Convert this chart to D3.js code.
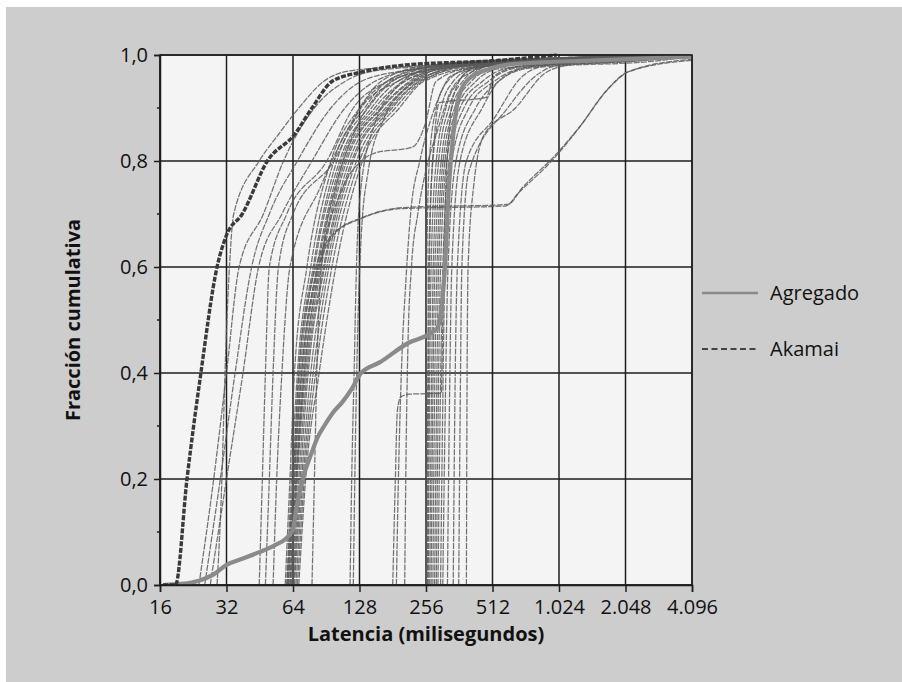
<!DOCTYPE html>
<html>
<head>
<meta charset="utf-8">
<script src="https://cdn.jsdelivr.net/npm/d3@7"></script>
<style>
  body { margin: 0; background: #fff; }
  text { font-family: "Open Sans", "Noto Sans", sans-serif; fill: #111; }
</style>
</head>
<body>
<div id="chart"></div>
<script>
// Ejes
const latencyTicks = [16, 32, 64, 128, 256, 512, 1024, 2048, 4096];
const latencyLabels = ["16", "32", "64", "128", "256", "512", "1.024", "2.048", "4.096"];
const fractionTicks = [0, 0.2, 0.4, 0.6, 0.8, 1.0];
const fractionLabels = ["0,0", "0,2", "0,4", "0,6", "0,8", "1,0"];
const fractionMinor = [0.1, 0.3, 0.5, 0.7, 0.9];

// Series destacadas: [latencia ms, fracción]
const akamai = [[16.5, 0], [18.8, 0], [21.2, 0.2], [24.5, 0.4], [29, 0.6], [32, 0.66], [37.7, 0.7],
  [49, 0.8], [65, 0.85], [78, 0.9], [96, 0.95], [128, 0.967], [194, 0.98], [550, 0.99], [1000, 1]];

const agregado = [[16.5, 0], [20, 0.002], [24, 0.008], [28, 0.02], [32, 0.038], [38, 0.05], [45, 0.062],
  [53, 0.075], [61.5, 0.094], [64, 0.105], [66, 0.14], [69, 0.18], [72, 0.21], [77, 0.245], [83, 0.28],
  [88.6, 0.3], [97, 0.325], [107, 0.345], [118, 0.37], [130, 0.4], [158, 0.42], [216, 0.458], [256, 0.47],
  [275, 0.478], [290, 0.487], [300, 0.52], [312, 0.6], [325, 0.75], [340, 0.85], [360, 0.92], [400, 0.955],
  [480, 0.972], [600, 0.982], [1500, 0.99], [4096, 0.997]];

// Curvas individuales, grupo cercano a 30 ms
const grupo30 = [
  [[29, 0], [30.5, 0.2], [31.5, 0.4], [33, 0.6], [34.5, 0.7], [45, 0.8], [55, 0.85], [68, 0.9], [88, 0.95], [115, 0.97], [250, 0.98], [3000, 1]],
  [[24, 0], [28, 0.2], [32, 0.4], [36.5, 0.6], [47, 0.7], [58, 0.8], [80, 0.9], [110, 0.95], [150, 0.97], [300, 0.98], [4096, 1]],
  [[25.5, 0], [30, 0.2], [35, 0.4], [41.6, 0.6], [50, 0.7], [67, 0.8], [95, 0.9], [130, 0.95], [200, 0.97], [400, 0.985], [4096, 1]],
  [[27, 0], [32, 0.2], [38, 0.4], [44.7, 0.6], [57, 0.7], [78, 0.8], [110, 0.9], [150, 0.95], [250, 0.975], [4096, 1]],
  [[45, 0], [46.5, 0.2], [48, 0.4], [50, 0.6], [60, 0.7], [91, 0.8], [120, 0.9], [170, 0.95], [300, 0.98], [4096, 1]],
  [[48, 0], [50, 0.2], [52, 0.4], [55, 0.6], [64, 0.7], [98, 0.8], [130, 0.9], [190, 0.95], [350, 0.98], [4096, 1]],
  [[52, 0], [54, 0.2], [57, 0.4], [62, 0.6], [85, 0.75], [110, 0.85], [140, 0.92], [200, 0.96], [400, 0.98], [4096, 1]]
];

// Grupo cercano a 64 ms
const grupo64 = [
  [[59, 0], [62, 0.2], [65, 0.4], [74, 0.6], [95, 0.8], [128, 0.9], [160, 0.95], [260, 0.98], [1000, 0.995], [4096, 1]],
  [[60, 0], [63, 0.2], [67, 0.4], [77, 0.6], [98, 0.8], [135, 0.9], [170, 0.95], [280, 0.98], [1200, 0.995], [4096, 1]],
  [[60.5, 0], [64, 0.2], [68, 0.4], [79, 0.6], [101, 0.8], [140, 0.9], [180, 0.95], [300, 0.98], [2000, 0.995], [4096, 1]],
  [[61, 0], [64.5, 0.2], [69, 0.4], [80, 0.6], [104, 0.8], [145, 0.9], [190, 0.95], [320, 0.98], [1500, 0.99], [4096, 1]],
  [[62, 0], [65, 0.2], [70, 0.4], [82, 0.6], [106, 0.8], [150, 0.9], [200, 0.95], [330, 0.985], [4096, 1]],
  [[62.5, 0], [66, 0.2], [71, 0.4], [83, 0.6], [108, 0.8], [155, 0.9], [205, 0.95], [340, 0.98], [2000, 0.99], [4096, 1]],
  [[63, 0], [66.5, 0.2], [72, 0.4], [85, 0.6], [110, 0.8], [160, 0.9], [215, 0.95], [350, 0.985], [4096, 1]],
  [[63.5, 0], [67, 0.2], [73, 0.4], [86, 0.6], [112, 0.8], [162, 0.9], [220, 0.95], [360, 0.98], [1800, 0.99], [4096, 1]],
  [[64, 0], [68, 0.2], [74, 0.4], [88, 0.6], [115, 0.8], [168, 0.9], [225, 0.95], [380, 0.985], [4096, 1]],
  [[64.5, 0], [69, 0.2], [75, 0.4], [89, 0.6], [118, 0.8], [172, 0.9], [230, 0.95], [400, 0.98], [2500, 0.993], [4096, 1]],
  [[65, 0], [70, 0.2], [77, 0.4], [91, 0.6], [120, 0.8], [176, 0.9], [236, 0.95], [420, 0.985], [4096, 1]],
  [[66, 0], [71, 0.2], [79, 0.4], [93, 0.6], [124, 0.8], [180, 0.9], [240, 0.95], [440, 0.98], [2000, 0.99], [4096, 1]],
  [[67, 0], [72, 0.2], [81, 0.4], [96, 0.6], [128, 0.8], [186, 0.9], [245, 0.95], [460, 0.985], [4096, 1]],
  [[68, 0], [73, 0.2], [84, 0.4], [100, 0.6], [132, 0.8], [194, 0.9], [250, 0.95], [480, 0.98], [2200, 0.99], [4096, 1]],
  [[78, 0], [80, 0.2], [82, 0.4], [86, 0.6], [100, 0.75], [120, 0.85], [150, 0.92], [200, 0.96], [400, 0.98], [4096, 1]]
];

// Curvas con mesetas
const mesetas = [
  [[60, 0], [64, 0.2], [68, 0.4], [76, 0.55], [96, 0.66], [128, 0.69], [195, 0.71], [586, 0.715], [672, 0.74], [948, 0.8], [1275, 0.865], [1656, 0.93], [2100, 0.968], [4096, 0.99]],
  [[61, 0], [65, 0.2], [70, 0.4], [79, 0.56], [100, 0.665], [135, 0.695], [200, 0.712], [600, 0.718], [700, 0.75], [980, 0.81], [1300, 0.87], [1700, 0.935], [2150, 0.97], [4096, 0.992]],
  [[62, 0], [66, 0.2], [72, 0.4], [84, 0.6], [105, 0.74], [135, 0.805], [150, 0.815], [222, 0.826], [254, 0.87], [284, 0.95], [400, 0.975], [4096, 1]],
  [[181, 0], [186, 0.2], [190, 0.33], [197, 0.355], [215, 0.36], [300, 0.362], [305, 0.5], [312, 0.7], [325, 0.85], [345, 0.93], [400, 0.97], [800, 0.99], [4096, 1]],
  [[260, 0], [263, 0.4], [268, 0.7], [280, 0.85], [295, 0.91], [480, 0.92], [520, 0.96], [700, 0.98], [4096, 1]]
];

// Grupo cercano a 128 ms
const grupo128 = [
  [[116, 0], [118, 0.2], [121, 0.4], [124, 0.6], [130, 0.75], [150, 0.87], [180, 0.93], [230, 0.96], [400, 0.98], [4096, 1]],
  [[120, 0], [123, 0.3], [126, 0.5], [130, 0.65], [140, 0.78], [165, 0.88], [210, 0.94], [300, 0.97], [600, 0.99], [4096, 1]],
  [[188, 0], [192, 0.2], [198, 0.4], [208, 0.58], [218, 0.7], [240, 0.8], [270, 0.88], [300, 0.93], [330, 0.96], [500, 0.98], [4096, 1]],
  [[205, 0], [208, 0.25], [212, 0.45], [220, 0.6], [235, 0.7], [255, 0.78], [290, 0.86], [330, 0.93], [380, 0.96], [600, 0.985], [4096, 1]]
];

// Grupo cercano a 256 ms
const grupo256 = [
  [[255, 0], [256, 0.3], [258, 0.6], [265, 0.8], [285, 0.9], [320, 0.95], [400, 0.975], [700, 0.99], [4096, 1]],
  [[258, 0], [260, 0.3], [263, 0.6], [275, 0.8], [300, 0.9], [340, 0.95], [420, 0.975], [800, 0.99], [4096, 1]],
  [[262, 0], [265, 0.3], [270, 0.6], [285, 0.8], [315, 0.9], [360, 0.95], [450, 0.98], [2000, 0.99], [4096, 1]],
  [[266, 0], [270, 0.3], [276, 0.6], [292, 0.8], [325, 0.9], [375, 0.95], [480, 0.98], [4096, 1]],
  [[270, 0], [274, 0.3], [281, 0.6], [300, 0.8], [335, 0.9], [390, 0.95], [500, 0.98], [2500, 0.99], [4096, 1]],
  [[275, 0], [279, 0.3], [287, 0.6], [306, 0.8], [345, 0.9], [410, 0.95], [520, 0.975], [1000, 0.99], [4096, 1]],
  [[280, 0], [285, 0.3], [292, 0.6], [312, 0.8], [355, 0.9], [430, 0.95], [560, 0.975], [2000, 0.988], [4096, 1]],
  [[285, 0], [290, 0.3], [298, 0.6], [318, 0.8], [365, 0.9], [460, 0.95], [600, 0.975], [4096, 1]],
  [[290, 0], [296, 0.3], [305, 0.6], [326, 0.8], [380, 0.9], [490, 0.95], [650, 0.975], [2500, 0.99], [4096, 1]],
  [[298, 0], [304, 0.3], [312, 0.6], [335, 0.8], [400, 0.9], [520, 0.95], [700, 0.975], [4096, 1]],
  [[305, 0], [312, 0.3], [322, 0.6], [350, 0.8], [430, 0.9], [545, 0.95], [750, 0.975], [3000, 0.99], [4096, 1]],
  [[320, 0], [326, 0.3], [335, 0.6], [365, 0.8], [460, 0.9], [560, 0.955], [800, 0.98], [4096, 1]],
  [[340, 0], [345, 0.3], [355, 0.6], [390, 0.8], [520, 0.88], [700, 0.96], [900, 0.98], [4096, 1]],
  [[360, 0], [365, 0.3], [372, 0.6], [400, 0.78], [600, 0.9], [800, 0.96], [1000, 0.98], [4096, 1]],
  [[390, 0], [392, 0.3], [397, 0.6], [420, 0.75], [470, 0.85], [650, 0.9], [880, 0.965], [1100, 0.98], [4096, 1]]
];

const curvas = [].concat(grupo30, grupo64, mesetas, grupo128, grupo256);

// Dimensiones
const W = 902, H = 682;
const plot = {left: 160, right: 692, top: 55, bottom: 585};

const svg = d3.select('#chart')
  .append('svg')
  .attr('width', W)
  .attr('height', H);

// Fondo gris del panel
svg.append('rect')
  .attr('x', 6).attr('y', 7)
  .attr('width', W - 6).attr('height', H - 7)
  .attr('fill', '#cdcdcd');

// Escalas
const x = d3.scaleLog().base(2)
  .domain([16, 4096])
  .range([plot.left, plot.right]);
const y = d3.scaleLinear()
  .domain([0, 1])
  .range([plot.bottom, plot.top]);

// Área de trazado
svg.append('rect')
  .attr('x', plot.left).attr('y', plot.top)
  .attr('width', plot.right - plot.left)
  .attr('height', plot.bottom - plot.top)
  .attr('fill', '#f4f4f4');

svg.append('clipPath').attr('id', 'clip')
  .append('rect')
  .attr('x', plot.left).attr('y', plot.top - 2)
  .attr('width', plot.right - plot.left)
  .attr('height', plot.bottom - plot.top + 2);

// Cuadrícula
svg.append('g')
  .selectAll('line')
  .data(latencyTicks)
  .enter().append('line')
  .attr('x1', d => x(d)).attr('x2', d => x(d))
  .attr('y1', plot.top).attr('y2', plot.bottom)
  .attr('stroke', '#1e1e1e').attr('stroke-width', 1.5);

svg.append('g')
  .selectAll('line')
  .data(fractionTicks)
  .enter().append('line')
  .attr('x1', plot.left).attr('x2', plot.right)
  .attr('y1', d => y(d)).attr('y2', d => y(d))
  .attr('stroke', '#1e1e1e').attr('stroke-width', 1.5);

// Líneas
const line = d3.line()
  .x(d => x(d[0]))
  .y(d => y(d[1]))
  .curve(d3.curveMonotoneX);

const lines = svg.append('g').attr('clip-path', 'url(#clip)');

lines.selectAll('.curva')
  .data(curvas)
  .enter().append('path')
  .attr('class', 'curva')
  .attr('d', line)
  .attr('fill', 'none')
  .attr('stroke', '#5a5a5a')
  .attr('stroke-width', 1.25)
  .attr('stroke-opacity', 0.85)
  .attr('stroke-dasharray', '6,1.2');

lines.append('path')
  .datum(agregado)
  .attr('d', line)
  .attr('fill', 'none')
  .attr('stroke', '#8a8a8a')
  .attr('stroke-width', 4.2);

lines.append('path')
  .datum(akamai)
  .attr('d', line)
  .attr('fill', 'none')
  .attr('stroke', '#3a3a3a')
  .attr('stroke-width', 3.4)
  .attr('stroke-dasharray', '5,1.5');

// Eje X
const xAxis = svg.append('g')
  .attr('transform', `translate(0,${plot.bottom})`)
  .call(d3.axisBottom(x)
    .tickValues(latencyTicks)
    .tickSize(7)
    .tickPadding(8)
    .tickFormat((d, i) => latencyLabels[i]));
xAxis.select('.domain').attr('stroke', '#1e1e1e').attr('stroke-width', 1.5);
xAxis.selectAll('.tick line').attr('stroke', '#1e1e1e').attr('stroke-width', 1.5);
xAxis.selectAll('.tick text')
  .style('font-size', '20px')
  .style('font-family', '"Open Sans", sans-serif')
  .attr('fill', '#111');

// Eje Y
const yAxis = svg.append('g')
  .attr('transform', `translate(${plot.left},0)`)
  .call(d3.axisLeft(y)
    .tickValues(fractionTicks)
    .tickSize(6)
    .tickPadding(6)
    .tickFormat((d, i) => fractionLabels[i]));
yAxis.select('.domain').attr('stroke', '#1e1e1e').attr('stroke-width', 1.5);
yAxis.selectAll('.tick line').attr('stroke', '#1e1e1e').attr('stroke-width', 1.5);
yAxis.selectAll('.tick text')
  .style('font-size', '20px')
  .style('font-family', '"Open Sans", sans-serif')
  .attr('fill', '#111');

// Marcas menores
svg.append('g')
  .selectAll('line')
  .data(fractionMinor)
  .enter().append('line')
  .attr('x1', plot.left - 3).attr('x2', plot.left)
  .attr('y1', d => y(d)).attr('y2', d => y(d))
  .attr('stroke', '#1e1e1e').attr('stroke-width', 1.5);

// Borde del área
svg.append('rect')
  .attr('x', plot.left).attr('y', plot.top)
  .attr('width', plot.right - plot.left)
  .attr('height', plot.bottom - plot.top)
  .attr('fill', 'none')
  .attr('stroke', '#1e1e1e')
  .attr('stroke-width', 1.5);

// Títulos de ejes
svg.append('text')
  .attr('x', (plot.left + plot.right) / 2)
  .attr('y', 641)
  .attr('text-anchor', 'middle')
  .style('font-size', '20px')
  .style('font-weight', 'bold')
  .text('Latencia (milisegundos)');

svg.append('text')
  .attr('transform', `translate(80,${(plot.top + plot.bottom) / 2}) rotate(-90)`)
  .attr('text-anchor', 'middle')
  .style('font-size', '20px')
  .style('font-weight', 'bold')
  .text('Fracción cumulativa');

// Leyenda
const legend = svg.append('g');
legend.append('line')
  .attr('x1', 702).attr('x2', 758)
  .attr('y1', 293).attr('y2', 293)
  .attr('stroke', '#8a8a8a').attr('stroke-width', 2.5);
legend.append('text')
  .attr('x', 770).attr('y', 300)
  .style('font-size', '20px')
  .text('Agregado');
legend.append('line')
  .attr('x1', 702).attr('x2', 758)
  .attr('y1', 349).attr('y2', 349)
  .attr('stroke', '#444').attr('stroke-width', 2)
  .attr('stroke-dasharray', '6,3.5');
legend.append('text')
  .attr('x', 770).attr('y', 356)
  .style('font-size', '20px')
  .text('Akamai');
</script>
</body>
</html>
